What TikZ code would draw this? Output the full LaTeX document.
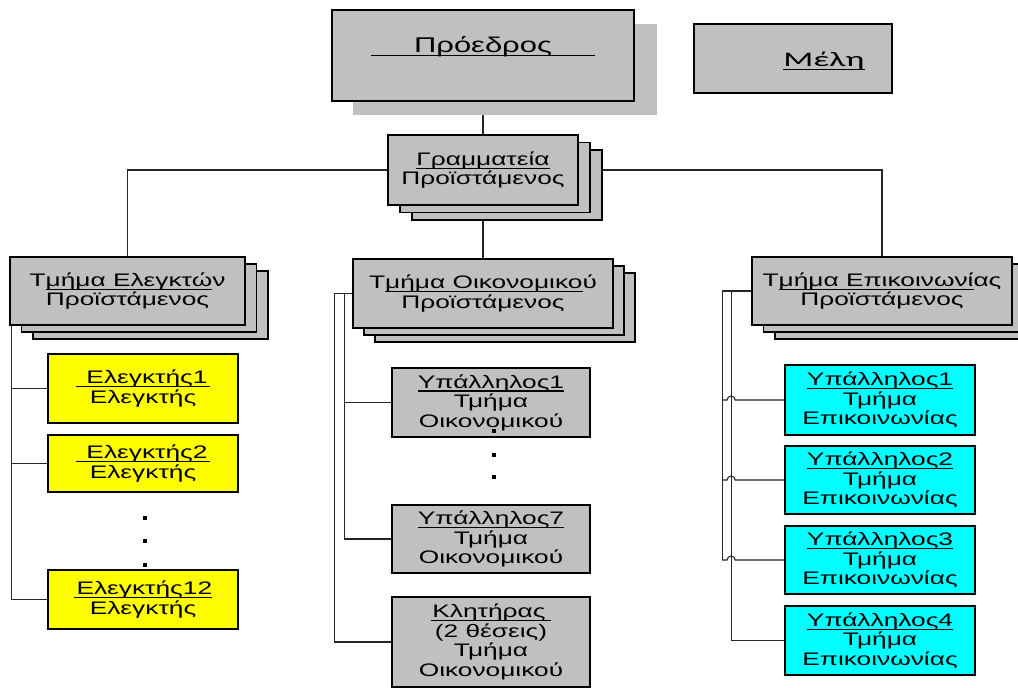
\documentclass[tikz,border=0pt]{standalone}
\usepackage{fontspec}
\setmainfont{Liberation Sans}[FakeStretch=1.45]
\newfontfamily\calib{Carlito}[FakeStretch=1.7]
\usetikzlibrary{backgrounds,calc}
\definecolor{boxgray}{HTML}{C0C0C0}
\definecolor{yel}{HTML}{FFFF00}
\definecolor{cya}{HTML}{00FFFF}
\newcommand\myul[1]{\setbox0\hbox{#1}\rlap{\rule[-2.6pt]{\wd0}{0.85pt}}\box0}
\begin{document}
\begin{tikzpicture}[x=0.75pt,y=-0.75pt,
  wh/.style 2 args={minimum width=#1*0.75pt, minimum height=#2*0.75pt},
  box/.style={draw=black, line width=1.3pt, inner sep=0pt, align=center,
    font=\fontsize{13.6}{14.6}\selectfont},
  graybox/.style={box, fill=boxgray},
  yelbox/.style={box, fill=yel},
  cyabox/.style={box, fill=cya},
  shadowbox/.style={fill=boxgray, inner sep=0pt},
  conn/.style={draw=black!85, line width=0.8pt},
  dotmark/.style={fill=black}]
\useasboundingbox (0,0) rectangle (1018,688);

% President
\node[shadowbox, wh={304}{91}] (presshadow) at (505,69.5) {};
\node[graybox, wh={302}{91}] (pres) at (483,55.5) {};
\node[anchor=base, font=\fontsize{16}{18}\selectfont, inner sep=0pt] (prestext) at (483,53)
  {\myul{\hspace{32pt}Πρόεδρος\hspace{32pt}}};

% Members
\node[graybox, wh={198}{69}] (meli) at (793,58.5) {};
\node[anchor=base, font=\calib\fontsize{15.5}{18}\selectfont, inner sep=0pt] (melitext) at (824,67)
  {\myul{Μέλη}};

% Secretariat stack
\node[graybox, wh={190}{70}] (gram3) at (507,185) {};
\node[graybox, wh={190}{70}] (gram2) at (495,177.5) {};
\node[graybox, wh={190}{70}] (gram) at (483,170) {\myul{Γραμματεία}\\Προϊστάμενος};

% Auditors department stack
\node[graybox, wh={235}{68}] (elek3) at (150.5,305) {};
\node[graybox, wh={235}{68}] (elek2) at (139,298) {};
\node[graybox, wh={235}{68}] (elek) at (127.5,291) {Τ\myul{μήμα Ελεγκτώ}ν\\Προϊστάμενος};

% Finance department stack
\node[graybox, wh={260}{69}] (oiko3) at (505,307.5) {};
\node[graybox, wh={260}{69}] (oiko2) at (494,300.5) {};
\node[graybox, wh={260}{69}] (oiko) at (483,293.5) {Τ\myul{μήμα Οικονομικο}ύ\\Προϊστάμενος};

% Communication department stack
\node[graybox, wh={260}{68}] (epik3) at (905,305) {};
\node[graybox, wh={260}{68}] (epik2) at (893.5,298) {};
\node[graybox, wh={260}{68}] (epik) at (882,291) {Τ\myul{μήμα Επικοινωνί}ας\\Προϊστάμενος};

% Auditors
\node[yelbox, wh={190}{69}] (e1) at (143,388.5) {\myul{\hspace{8pt}Ελεγκτής1\hspace{2pt}}\\Ελεγκτής};
\node[yelbox, wh={190}{57}] (e2) at (143,463.5) {\myul{\hspace{8pt}Ελεγκτής2\hspace{2pt}}\\Ελεγκτής};
\node[yelbox, wh={190}{59}] (e12) at (143,599.5) {\myul{\hspace{2pt}Ελεγκτής12}\\Ελεγκτής};
\foreach \yy in {518,541,565} \fill[dotmark] (143,\yy-2) rectangle (147,\yy+2);

% Finance employees
\node[graybox, wh={198}{69}] (y1) at (491,402.5) {\myul{Υπάλληλος1}\\Τμήμα\\Οικονομικού};
\node[graybox, wh={198}{68}] (y7) at (491,539) {\myul{Υπάλληλος7}\\Τμήμα\\Οικονομικού};
\node[graybox, wh={198}{90}] (kl) at (491,642) {\myul{\hspace{1pt}Κλητήρας\hspace{4pt}}\\(2 θέσεις)\\Τμήμα\\Οικονομικού};
\foreach \yy in {431,455,477} \fill[dotmark] (492,\yy-2) rectangle (496,\yy+2);

% Communication employees
\node[cyabox, wh={190}{70}] (c1) at (880,400) {\myul{Υπάλληλος1}\\Τμήμα\\Επικοινωνίας};
\node[cyabox, wh={190}{68}] (c2) at (880,480) {\myul{Υπάλληλος2}\\Τμήμα\\Επικοινωνίας};
\node[cyabox, wh={190}{68}] (c3) at (880,560) {\myul{Υπάλληλος3}\\Τμήμα\\Επικοινωνίας};
\node[cyabox, wh={190}{69}] (c4) at (880,640.5) {\myul{Υπάλληλος4}\\Τμήμα\\Επικοινωνίας};

\begin{pgfonlayer}{background}
  \draw[conn] (pres.south) -- (oiko.north);
  \draw[conn] (elek.north) |- (gram.west);
  \draw[conn] (epik.north) |- (gram.east);
  % left
  \coordinate (lt) at ($(elek.south west)+(2,0)$);
  \draw[conn] (lt) |- (e12.west);
  \draw[conn] (lt |- e1.west) -- (e1.west);
  \draw[conn] (lt |- e2.west) -- (e2.west);
  % middle
  \coordinate (m1) at ($(oiko.west)+(-8,0)$);
  \coordinate (m2) at ($(oiko.west)+(-18,0)$);
  \draw[conn] (oiko.west) -- (m1) |- (y7.west);
  \draw[conn] (m1 |- y1.west) -- (y1.west);
  \draw[conn] (m1) -- (m2) |- (kl.west);
  % right
  \coordinate (r1) at ($(epik.west)+(-29,0)$);
  \coordinate (r2) at ($(epik.west)+(-20,0)$);
  \draw[conn] (epik.west) -- (r1) -- (r1 |- c3.west);
  \draw[conn] (r2) |- (c4.west);
  \foreach \c in {c1,c2,c3}
    \draw[conn] (r1 |- \c.west) -- ++(5,0) arc[start angle=180, end angle=360, radius=4] -- (\c.west);
\end{pgfonlayer}
\end{tikzpicture}
\end{document}
